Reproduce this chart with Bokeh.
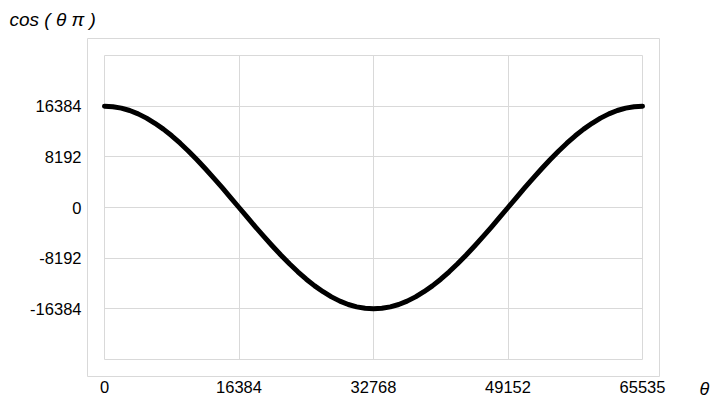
from bokeh.plotting import figure
from bokeh.models import Range1d, FixedTicker, LinearAxis, ColumnDataSource
from bokeh.embed import file_html
from bokeh.resources import INLINE

# ---- data ----
theta = [0, 1024, 2048, 3072, 4096, 5120, 6144, 7168, 8192,
         9216, 10240, 11264, 12288, 13312, 14336, 15360, 16384,
         17408, 18432, 19456, 20480, 21504, 22528, 23552, 24576,
         25600, 26624, 27648, 28672, 29696, 30720, 31744, 32768,
         33792, 34816, 35840, 36864, 37888, 38912, 39936, 40960,
         41984, 43008, 44032, 45056, 46080, 47104, 48128, 49152,
         50176, 51200, 52224, 53248, 54272, 55296, 56320, 57344,
         58368, 59392, 60416, 61440, 62464, 63488, 64512, 65535]
cos_val = [16384, 16300, 16070, 15680, 15140, 14450, 13620, 12670, 11590,
           10390, 9100, 7720, 6270, 4760, 3200, 1610, 0,
           -1610, -3200, -4760, -6270, -7720, -9100, -10390, -11590,
           -12670, -13620, -14450, -15140, -15680, -16070, -16300, -16384,
           -16300, -16070, -15680, -15140, -14450, -13620, -12670, -11590,
           -10390, -9100, -7720, -6270, -4760, -3200, -1610, 0,
           1610, 3200, 4760, 6270, 7720, 9100, 10390, 11590,
           12670, 13620, 14450, 15140, 15680, 16070, 16300, 16384]

x_ticks = [0, 16384, 32768, 49152, 65535]
y_ticks = [-24576, -16384, -8192, 0, 8192, 16384, 24576]
y_tick_labels = ["", "-16384", "-8192", "0", "8192", "16384", ""]

x_title = "θ"
y_title = "cos ( θ π )"

# ---- layout ----
FW, FH = 572, 338
INNER_W, INNER_H = 538, 304
x_span = x_ticks[-1] - x_ticks[0]
y_span = y_ticks[-1] - y_ticks[0]
x_pad = (FW - INNER_W) / 2 * x_span / INNER_W
y_pad = (FH - INNER_H) / 2 * y_span / INNER_H

p = figure(frame_width=FW, frame_height=FH,
           x_range=Range1d(x_ticks[0] - x_pad, x_ticks[-1] + x_pad),
           y_range=Range1d(y_ticks[0] - y_pad, y_ticks[-1] + y_pad),
           output_backend="svg", toolbar_location=None,
           min_border_left=87, min_border_right=52,
           min_border_top=38, min_border_bottom=25)
p.background_fill_color = "white"
p.border_fill_color = "white"
p.outline_line_color = "#d9d9d9"
p.outline_line_width = 1

FONT = "Liberation Sans"

# title (y quantity) at the top-left
p.title.text = y_title
p.title.align = "left"
p.title.offset = -78
p.title.vertical_align = "top"
p.title.standoff = 13
p.title.text_font = FONT
p.title.text_font_style = "italic"
p.title.text_font_size = "19px"
p.title.text_color = "black"


def plain_axis(ax):
    ax.axis_line_color = None
    ax.major_tick_line_color = None
    ax.minor_tick_line_color = None
    ax.major_tick_out = 0
    ax.major_tick_in = 0
    ax.minor_tick_out = 0
    ax.minor_tick_in = 0
    ax.major_label_text_font = FONT
    ax.major_label_text_font_size = "16.5px"
    ax.major_label_text_color = "black"


plain_axis(p.xaxis[0])
plain_axis(p.yaxis[0])
p.xaxis[0].ticker = FixedTicker(ticks=x_ticks)
p.xaxis[0].major_label_standoff = 4
p.yaxis[0].ticker = FixedTicker(ticks=y_ticks)
p.yaxis[0].major_label_standoff = 6
p.yaxis[0].major_label_overrides = {t: l for t, l in zip(y_ticks, y_tick_labels)}

# theta label on the right, at the level of the x tick labels
p.extra_y_ranges = {"theta": Range1d(0, 1)}
tax = LinearAxis(y_range_name="theta")
plain_axis(tax)
tax.ticker = FixedTicker(ticks=[0])
tax.major_label_overrides = {0: "\n" + x_title}
tax.major_label_standoff = 40
tax.major_label_text_font_style = "italic"
tax.major_label_text_font_size = "18px"
p.add_layout(tax, "right")

# grids
p.xgrid[0].ticker = FixedTicker(ticks=x_ticks)
p.ygrid[0].ticker = FixedTicker(ticks=y_ticks)
for g in (p.xgrid[0], p.ygrid[0]):
    g.grid_line_color = "#d9d9d9"
    g.grid_line_width = 1
p.xgrid[0].cross_bounds = (y_ticks[0], y_ticks[-1])
p.ygrid[0].cross_bounds = (x_ticks[0], x_ticks[-1])

# curve
src = ColumnDataSource(dict(x=theta, y=cos_val))
p.line("x", "y", source=src, line_color="black", line_width=5,
       line_join="round", line_cap="round")

open("out.html", "w").write(file_html(p, INLINE))
